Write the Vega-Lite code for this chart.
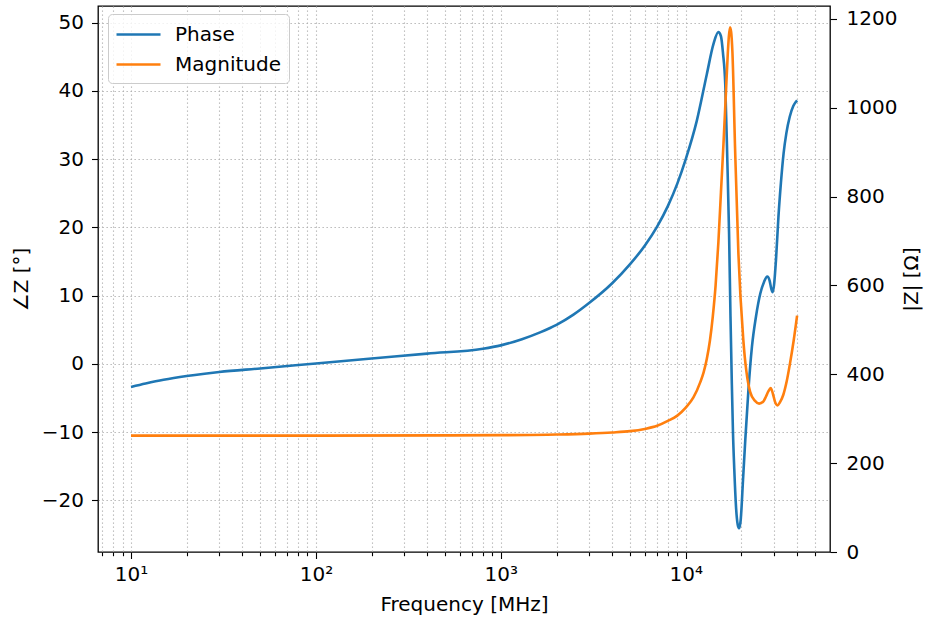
{
  "$schema": "https://vega.github.io/schema/vega-lite/v6.json",
  "width": 732,
  "height": 546,
  "autosize": {"type": "none"},
  "padding": {"left": 98, "top": 6, "right": 101, "bottom": 68},
  "background": "white",
  "config": {
    "font": "DejaVu Sans",
    "view": {"stroke": "black", "strokeWidth": 1.3},
    "axis": {
      "labelFont": "DejaVu Sans",
      "titleFont": "DejaVu Sans",
      "labelFontSize": 20,
      "titleFontSize": 20,
      "labelColor": "black",
      "titleColor": "black",
      "titleFontWeight": "normal",
      "tickColor": "black",
      "tickWidth": 1.1,
      "domain": false,
      "gridColor": "#b0b0b0",
      "gridDash": [1.3, 2.7],
      "gridWidth": 1.1
    }
  },
  "datasets": {
    "phase": [
      {"f": 10, "phase": -3.4}, {"f": 12, "phase": -2.9}, {"f": 15, "phase": -2.35},
      {"f": 20, "phase": -1.8}, {"f": 25, "phase": -1.45}, {"f": 30, "phase": -1.2},
      {"f": 50, "phase": -0.68}, {"f": 100, "phase": 0.05}, {"f": 200, "phase": 0.77},
      {"f": 400, "phase": 1.49}, {"f": 800, "phase": 2.2}, {"f": 1000, "phase": 2.7},
      {"f": 1300, "phase": 3.6}, {"f": 1630, "phase": 4.6}, {"f": 2000, "phase": 5.7},
      {"f": 2470, "phase": 7.2}, {"f": 3000, "phase": 8.9}, {"f": 4000, "phase": 11.8},
      {"f": 5000, "phase": 14.6}, {"f": 6000, "phase": 17.3}, {"f": 7000, "phase": 20.1},
      {"f": 8000, "phase": 23.1}, {"f": 9000, "phase": 26.4}, {"f": 10000, "phase": 30.0},
      {"f": 11470, "phase": 35.6}, {"f": 12990, "phase": 42.4}, {"f": 14100, "phase": 46.8},
      {"f": 15000, "phase": 48.6}, {"f": 15500, "phase": 48.0}, {"f": 15900, "phase": 45.5},
      {"f": 16350, "phase": 41.0}, {"f": 16790, "phase": 29.5}, {"f": 17150, "phase": 19.0},
      {"f": 17450, "phase": 7.0}, {"f": 17750, "phase": -3.0}, {"f": 18000, "phase": -10.0},
      {"f": 18300, "phase": -15.5}, {"f": 18700, "phase": -21.0}, {"f": 19100, "phase": -23.6},
      {"f": 19400, "phase": -24.1}, {"f": 19800, "phase": -23.0}, {"f": 20400, "phase": -17.0},
      {"f": 21000, "phase": -11.0}, {"f": 21800, "phase": -4.0}, {"f": 22800, "phase": 2.5},
      {"f": 24000, "phase": 7.0}, {"f": 25300, "phase": 10.3}, {"f": 26500, "phase": 12.0},
      {"f": 27600, "phase": 12.8}, {"f": 28400, "phase": 12.2}, {"f": 29000, "phase": 11.0},
      {"f": 29500, "phase": 10.5}, {"f": 30000, "phase": 11.5}, {"f": 30800, "phase": 15.5},
      {"f": 31700, "phase": 21.5}, {"f": 32700, "phase": 26.5}, {"f": 33800, "phase": 30.8},
      {"f": 35000, "phase": 33.8}, {"f": 36500, "phase": 36.2}, {"f": 38200, "phase": 37.8},
      {"f": 40000, "phase": 38.6}
    ],
    "magnitude": [
      {"f": 10, "mag": 262}, {"f": 100, "mag": 262}, {"f": 500, "mag": 262.5},
      {"f": 1000, "mag": 263}, {"f": 2000, "mag": 264.5}, {"f": 3000, "mag": 266.5},
      {"f": 4000, "mag": 269}, {"f": 5000, "mag": 272}, {"f": 6000, "mag": 277},
      {"f": 7000, "mag": 284}, {"f": 8000, "mag": 295}, {"f": 9000, "mag": 307},
      {"f": 10000, "mag": 325}, {"f": 11000, "mag": 348}, {"f": 12000, "mag": 383},
      {"f": 12500, "mag": 405}, {"f": 13000, "mag": 435}, {"f": 13500, "mag": 475},
      {"f": 14000, "mag": 530}, {"f": 14500, "mag": 600}, {"f": 15000, "mag": 695},
      {"f": 15500, "mag": 810}, {"f": 16000, "mag": 920}, {"f": 16450, "mag": 1025},
      {"f": 16870, "mag": 1121}, {"f": 17100, "mag": 1160}, {"f": 17350, "mag": 1181},
      {"f": 17600, "mag": 1170}, {"f": 17870, "mag": 1127}, {"f": 18480, "mag": 908},
      {"f": 19250, "mag": 674}, {"f": 20470, "mag": 478}, {"f": 22270, "mag": 361},
      {"f": 23700, "mag": 340}, {"f": 24930, "mag": 334}, {"f": 26200, "mag": 338},
      {"f": 27150, "mag": 350}, {"f": 28000, "mag": 362}, {"f": 28800, "mag": 369},
      {"f": 29600, "mag": 356}, {"f": 30400, "mag": 338}, {"f": 31300, "mag": 330},
      {"f": 32400, "mag": 338}, {"f": 33700, "mag": 354}, {"f": 35100, "mag": 383},
      {"f": 36600, "mag": 424}, {"f": 38300, "mag": 475}, {"f": 40000, "mag": 532}
    ]
  },
  "layer": [
    {
      "data": {"name": "phase"},
      "mark": {"type": "line", "strokeWidth": 2.6, "interpolate": "monotone"},
      "encoding": {
        "x": {
          "field": "f",
          "type": "quantitative",
          "scale": {"type": "log", "domain": [6.63, 60256], "nice": false},
          "axis": {
            "orient": "bottom",
            "title": null,
            "labels": false,
            "grid": true,
            "tickSize": 3.7,
            "values": [7, 8, 9, 20, 30, 40, 50, 60, 70, 80, 90, 200, 300, 400, 500, 600, 700, 800, 900,
                       2000, 3000, 4000, 5000, 6000, 7000, 8000, 9000, 20000, 30000, 40000, 50000]
          }
        },
        "y": {
          "field": "phase",
          "type": "quantitative",
          "scale": {"domain": [-27.58, 52.43], "nice": false, "zero": false},
          "axis": {
            "orient": "left",
            "title": "∠Z [°]",
            "values": [-20, -10, 0, 10, 20, 30, 40, 50],
            "grid": true,
            "tickSize": 6.5,
            "labelPadding": 8,
            "titlePadding": 10
          }
        },
        "color": {
          "datum": "Phase",
          "type": "nominal",
          "scale": {"domain": ["Phase", "Magnitude"], "range": ["#1f77b4", "#ff7f0e"]},
          "legend": {
            "title": null,
            "orient": "none",
            "legendX": 10,
            "legendY": 8,
            "symbolType": "M-1.09,0H2.91",
            "symbolSize": 484,
            "symbolStrokeWidth": 2.6,
            "labelFont": "DejaVu Sans",
            "labelFontSize": 20,
            "labelColor": "black",
            "labelOffset": 34,
            "rowPadding": 7,
            "padding": 8,
            "strokeColor": "#cccccc",
            "fillColor": "rgba(255,255,255,0.8)",
            "cornerRadius": 4
          }
        }
      }
    },
    {
      "data": {"name": "magnitude"},
      "mark": {"type": "line", "strokeWidth": 2.6, "interpolate": "monotone"},
      "encoding": {
        "x": {
          "field": "f",
          "type": "quantitative",
          "axis": {
            "orient": "bottom",
            "title": "Frequency [MHz]",
            "values": [10, 100, 1000, 10000],
            "labelExpr": "datum.value == 10 ? '10¹' : datum.value == 100 ? '10²' : datum.value == 1000 ? '10³' : '10⁴'",
            "grid": true,
            "tickSize": 6.5,
            "labelPadding": 6,
            "titlePadding": 10
          }
        },
        "y": {
          "field": "mag",
          "type": "quantitative",
          "scale": {"domain": [0, 1229], "nice": false, "zero": false},
          "axis": {
            "orient": "right",
            "title": "|Z| [Ω]",
            "titleAngle": 270,
            "titleBaseline": "top",
            "format": "d",
            "values": [0, 200, 400, 600, 800, 1000, 1200],
            "grid": false,
            "tickSize": 6.5,
            "labelPadding": 9.5,
            "titlePadding": 5
          }
        },
        "color": {"datum": "Magnitude", "type": "nominal"}
      }
    }
  ],
  "resolve": {
    "scale": {"y": "independent"},
    "axis": {"x": "independent", "y": "independent"}
  }
}
